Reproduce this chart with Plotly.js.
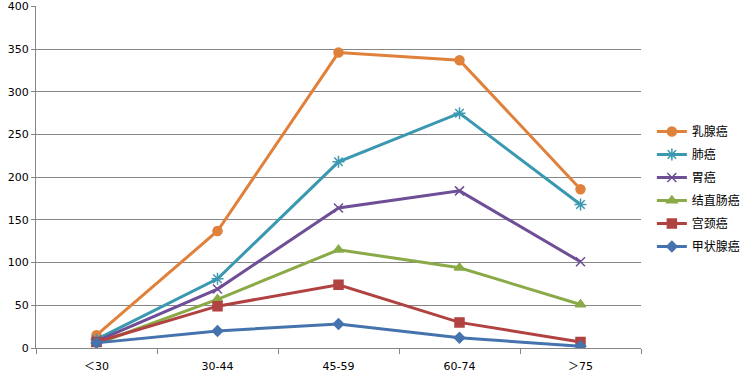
<!DOCTYPE html>
<html><head><meta charset="utf-8">
<script src="https://cdn.plot.ly/plotly-3.0.1.min.js"></script>
<style>html,body{margin:0;padding:0;background:#fff}#c{width:751px;height:378px}</style>
</head><body><div id="c"></div>
<script>
const categories = ["＜30", "30-44", "45-59", "60-74", "＞75"];
const seriesNames = ["乳腺癌", "肺癌", "胃癌", "结直肠癌", "宫颈癌", "甲状腺癌"];
const breast = [15, 137, 346, 337, 186];
const lung = [10, 81, 218, 275, 168];
const stomach = [8, 69, 164, 184, 101];
const colorectal = [5, 57, 115, 94, 51];
const cervical = [7, 49, 74, 30, 7];
const thyroid = [6, 20, 28, 12, 2];
const yTicks = [0, 50, 100, 150, 200, 250, 300, 350, 400];

const values = [breast, lung, stomach, colorectal, cervical, thyroid];
const colors = ["#E0813B", "#3A98B0", "#6E4E96", "#8AAA48", "#B04341", "#4573AE"];
const symbols = ["circle", "asterisk-open", "x-thin-open", "triangle-up", "square", "diamond"];
const sizes = [9, 10, 9, 9, 9, 8];

const traces = values.map((v, i) => ({
  x: categories, y: v, name: seriesNames[i], type: "scatter", mode: "lines+markers",
  legendgroup: "g" + i,
  line: {color: colors[i], width: 3},
  marker: {symbol: symbols[i], size: sizes[i], color: colors[i], line: {color: colors[i], width: 1.5}}
}));

Plotly.newPlot("c", traces, {
  width: 751, height: 378,
  margin: {l: 36, r: 110, t: 6, b: 30},
  paper_bgcolor: "#fff", plot_bgcolor: "#fff",
  font: {family: "DejaVu Sans, Noto Sans CJK SC", size: 11, color: "#000"},
  showlegend: true,
  legend: {xref: "container", yref: "container", x: 0.868, y: 0.5, yanchor: "middle", xanchor: "left",
    tracegroupgap: 4, itemwidth: 30,
    font: {family: "Noto Sans CJK SC, sans-serif", size: 12, color: "#000"}},
  xaxis: {type: "category", range: [-0.5, 4.5], showgrid: false, zeroline: false,
    showline: true, linecolor: "#868686", linewidth: 1,
    ticks: "outside", tickson: "boundaries", ticklen: 5, tickcolor: "#868686",
    ticklabelstandoff: 8,
    tickfont: {family: "DejaVu Sans, Noto Sans CJK SC", size: 11}},
  yaxis: {range: [0, 400.5], tickvals: yTicks, showgrid: true, gridcolor: "#868686", gridwidth: 1,
    zeroline: false, showline: true, linecolor: "#868686", linewidth: 1,
    ticks: "outside", ticklen: 4, tickcolor: "#868686",
    tickfont: {family: "DejaVu Sans", size: 11}}
}, {displayModeBar: false, staticPlot: true});
</script></body></html>
